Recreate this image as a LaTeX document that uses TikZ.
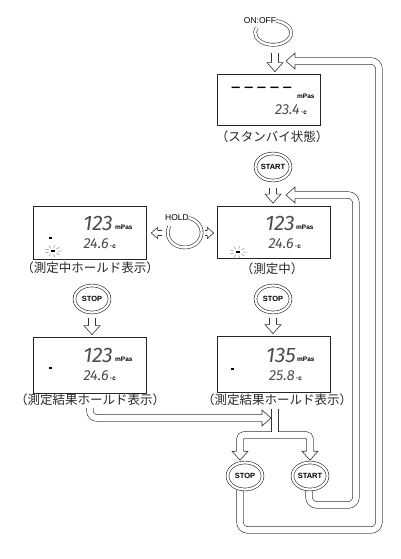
\documentclass[tikz,border=0pt]{standalone}
\usepackage{fontspec}
\setsansfont{Liberation Sans}
\newfontfamily\jpfont{Noto Sans CJK JP}
\newfontfamily\lcdfont{Fira Sans}
\usetikzlibrary{shapes.geometric,calc,backgrounds}

\tikzset{
  lcdbox/.style={draw=black!85, line width=0.7pt, inner sep=0pt, minimum width=113pt, minimum height=52pt},
  btn/.style={ellipse, draw=black!85, fill=white, double=white, double distance=2.2pt, line width=0.6pt,
    minimum width=35pt, minimum height=27pt, inner sep=0pt, font=\sffamily\bfseries\fontsize{7.5}{8}\selectfont},
  channel/.style={draw=black!80, double=white, double distance=6pt, line width=0.6pt},
  thinchannel/.style={draw=black!80, double=white, double distance=4pt, line width=0.6pt},
  ring/.style={draw=black!80, double=white, double distance=2.4pt, line width=0.6pt},
  caption/.style={font=\jpfont\fontsize{12.5}{12.5}\selectfont, text=black!85, inner sep=0pt},
  keylabel/.style={font=\sffamily\fontsize{8.5}{9}\selectfont, inner sep=0pt},
  bigdigit/.style={font=\lcdfont\itshape\fontsize{21}{21}\selectfont, text=black!70, inner sep=0pt, anchor=base east},
  smalldigit/.style={font=\lcdfont\itshape\fontsize{14.5}{15}\selectfont, text=black!70, inner sep=0pt, anchor=base east},
  unit/.style={font=\sffamily\bfseries\fontsize{6.5}{7}\selectfont, inner sep=0pt, anchor=base west},
  head/.pic={\filldraw[fill=white, draw=black!80, line width=0.6pt]
    (-9,3.3) -- (-9,8) -- (0,0) -- (-9,-8) -- (-9,-3.3);},
  blink/.pic={\draw[black!45, line width=0.5pt] \foreach \a in {0,40,...,320} {(\a:4.5 and 3.2) -- (\a:8.5 and 6)};
    \draw[line width=1.2pt] (-1.8,0) -- (1.8,0);}
}

\begin{document}
\begin{tikzpicture}[x=1pt, y=1pt]
  \useasboundingbox (0,0) rectangle (400,-559);

  % ON:OFF key
  \node[keylabel] (onoff) at (260,-21) {ON:OFF};
  \draw[ring] (onoff.east) arc[start angle=80, end angle=-205, x radius=18, y radius=12];
  \coordinate (onoffout) at (275,-53);

  % standby display
  \node[lcdbox, minimum width=103pt, minimum height=51pt] (standby) at (268.5,-99.5) {};
  \node[font=\lcdfont\fontsize{18}{18}\selectfont, inner sep=0pt, anchor=west] (dashes) at (231,-90)
    {–\hspace{3.5pt}–\hspace{3.5pt}–\hspace{3.5pt}–\hspace{3.5pt}–};
  \node[unit] at (297,-99) {mPas};
  \node[smalldigit] at (300,-115) {23.4};
  \node[unit] at (301,-115) {·c};
  \node[caption] (standbycap) at (272,-137) {（スタンバイ状態）};

  % START key
  \node[btn] (start1) at (273,-167) {START};

  % measuring display
  \node[lcdbox] (meas) at (273.5,-232.5) {};
  \node[bigdigit] at (295,-230) {123};
  \node[unit] at (296,-229.5) {mPas};
  \node[smalldigit] at (294,-248) {24.6};
  \node[unit] at (295,-248) {·c};
  \pic at (238,-252) {blink};
  \node[caption] (meascap) at (272,-269) {（測定中）};

  % hold display
  \node[lcdbox, minimum height=53pt] (holdbox) at (89.5,-232.5) {};
  \node[bigdigit] at (113,-230) {123};
  \node[unit] at (115,-229.5) {mPas};
  \node[smalldigit] at (109,-248) {24.6};
  \node[unit] at (110,-248) {·c};
  \draw[line width=1.2pt] (48.5,-238) -- (51.5,-238);
  \pic at (53,-251) {blink};
  \node[caption] (holdcap) at (90,-268) {（測定中ホールド表示）};

  % HOLD key
  \node[keylabel] (hold) at (177,-218) {HOLD};
  \draw[ring] (hold.east) arc[start angle=75, end angle=-205, x radius=17, y radius=15];
  \coordinate (holdl) at (162,-233);
  \coordinate (holdr) at (205,-233);

  % STOP keys
  \node[btn] (stop1) at (92,-299) {STOP};
  \node[btn] (stop3) at (273,-299) {STOP};

  % result displays
  \node[lcdbox, minimum height=56pt] (res1) at (89.5,-365) {};
  \node[bigdigit] at (113,-362) {123};
  \node[unit] at (115,-361) {mPas};
  \node[smalldigit] at (109,-380) {24.6};
  \node[unit] at (110,-380) {·c};
  \draw[line width=1.2pt] (48.5,-368) -- (51.5,-368);
  \node[caption] (res1cap) at (90,-400) {（測定結果ホールド表示）};

  \node[lcdbox, minimum height=56pt] (res2) at (273.5,-364) {};
  \node[bigdigit] at (296,-362) {135};
  \node[unit] at (297,-361) {mPas};
  \node[smalldigit] at (295,-380) {25.8};
  \node[unit] at (296,-380) {·c};
  \draw[line width=1.2pt] (230.5,-369) -- (233.5,-369);
  \node[caption] (res2cap) at (277,-400) {（測定結果ホールド表示）};

  % keys below
  \node[btn] (stop2) at (245,-476) {STOP};
  \node[btn] (start2) at (310,-476) {START};
  \coordinate (split) at (275,-435);
  \coordinate (in1) at (286,-61);
  \coordinate (in2) at (286,-195);

  \begin{scope}[on background layer]
    % short arrows
    \draw[channel, shorten >=9pt] (onoffout) -- ($(onoffout |- standby.north)+(0,2)$);
    \pic[rotate=-90] at ($(onoffout |- standby.north)+(0,2)$) {head};
    \draw[channel, shorten <=7pt, shorten >=9pt] (start1.south) -- ($(start1.south |- meas.north)+(0,3)$);
    \pic[rotate=-90] at ($(start1.south |- meas.north)+(0,3)$) {head};
    \draw[channel, shorten <=5pt, shorten >=9pt] (stop1.south) -- ($(stop1.south |- res1.north)+(0,2)$);
    \pic[rotate=-90] at ($(stop1.south |- res1.north)+(0,2)$) {head};
    \draw[channel, shorten <=5pt, shorten >=9pt] (stop3.south) -- ($(stop3.south |- res2.north)+(0,2)$);
    \pic[rotate=-90] at ($(stop3.south |- res2.north)+(0,2)$) {head};

    % HOLD arrows
    \draw[thinchannel, shorten >=6.3pt] (holdl) -- ($(holdl -| holdbox.east)+(5,0)$);
    \pic[rotate=180, scale=0.7] at ($(holdl -| holdbox.east)+(5,0)$) {head};
    \draw[thinchannel, shorten >=6.3pt] (holdr) -- ($(holdr -| meas.west)+(-3,0)$);
    \pic[scale=0.7] at ($(holdr -| meas.west)+(-3,0)$) {head};

    % return loops
    \draw[channel, rounded corners=8pt, shorten >=9pt] ($(stop2.south)+(-5,0)$) |- (379,-530) |- (in1);
    \pic[rotate=180] at (in1) {head};
    \draw[channel, rounded corners=8pt, shorten >=9pt] ($(start2.south)+(-1,0)$) |- (356,-505) |- (in2);
    \pic[rotate=180] at (in2) {head};

    % split to STOP / START
    \draw[channel, rounded corners=4pt, shorten >=9pt] (split) -| ($(stop2.north)+(-5,2)$);
    \pic[rotate=-90] at ($(stop2.north)+(-5,2)$) {head};
    \draw[channel, rounded corners=4pt, shorten >=9pt] (split) -| ($(start2.north)+(0,2)$);
    \pic[rotate=-90] at ($(start2.north)+(0,2)$) {head};
    \draw[channel] ($(res2cap.south -| split)+(0,-3)$) -- ($(split)+(0,3)$);
    \draw[channel, rounded corners=7pt, shorten >=9pt] ($(res1cap.south)+(0,-2)$) |- (271,-418);
    \pic at (271,-418) {head};
  \end{scope}
\end{tikzpicture}
\end{document}
